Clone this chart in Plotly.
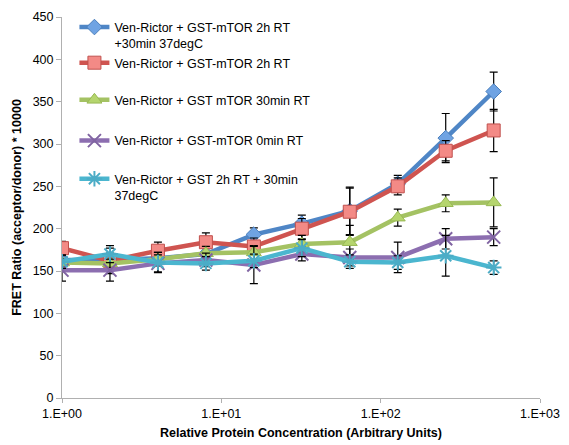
import plotly.graph_objects as go

conc = [1, 2, 4, 8, 16, 32, 64, 128, 256, 512]

names = [
    "Ven-Rictor + GST-mTOR 2h RT<br>+30min 37degC",
    "Ven-Rictor + GST-mTOR 2h RT",
    "Ven-Rictor + GST mTOR 30min RT",
    "Ven-Rictor + GST-mTOR 0min RT",
    "Ven-Rictor + GST 2h RT + 30min<br>37degC",
]

blue = [163, 163, 165, 170, 193, 206, 221, 253, 307, 362]
red = [177, 162, 174, 184, 179, 200, 220, 250, 292, 316]
green = [160, 159, 164, 171, 172, 182, 184, 213, 230, 231]
purple = [151, 151, 159, 163, 157, 170, 166, 166, 188, 190]
cyan = [161, 170, 160, 159, 162, 177, 161, 160, 168, 154]

blue_err = [8, 8, 8, 8, 8, 10, 28, 10, 29, 23]
red_err = [8, 15, 10, 11, 10, 12, 28, 10, 12, 25]
green_err = [8, 8, 8, 8, 8, 10, 20, 10, 10, 29]
purple_err = [13, 13, 10, 8, 22, 8, 10, 18, 12, 10]
cyan_err = [8, 10, 12, 8, 8, 10, 8, 8, 24, 8]

x_tickvals = [1, 10, 100, 1000]
x_ticktext = ["1.E+00", "1.E+01", "1.E+02", "1.E+03"]

series = [
    (blue, blue_err, "#4F86C6", dict(symbol="diamond", size=12, color="#6FA3E3", line=dict(color="#4A7EBB", width=1))),
    (red, red_err, "#CF5450", dict(symbol="square", size=13, color="#F38A86", line=dict(color="#C0504D", width=1))),
    (green, green_err, "#A4C263", dict(symbol="triangle-up", size=13, color="#B5D56E", line=dict(color="#98B954", width=1))),
    (purple, purple_err, "#8C6EB0", dict(symbol="x-thin-open", size=13, color="#8064A2", line=dict(color="#8064A2", width=2))),
    (cyan, cyan_err, "#4BB6CF", dict(symbol="asterisk-open", size=13, color="#4BACC6", line=dict(color="#4BACC6", width=2))),
]

legend_ids = ["legend", "legend2", "legend3", "legend4", "legend5"]
legend_tops = [1.012, 0.9185, 0.821, 0.714, 0.614]

fig = go.Figure()
for i, (vals, err, lc, mk) in enumerate(series):
    fig.add_trace(go.Scatter(
        x=conc, y=vals, name=names[i], mode="lines+markers",
        line=dict(color=lc, width=4.5),
        marker=mk,
        error_y=dict(type="data", array=err, visible=True, color="black", thickness=1.2, width=4),
        legend=legend_ids[i],
    ))

font_family = "Liberation Sans, Arial, sans-serif"
layout_legends = {}
for lid, ytop in zip(legend_ids, legend_tops):
    layout_legends[lid] = dict(
        x=0.026, y=ytop, xanchor="left", yanchor="top",
        bgcolor="rgba(0,0,0,0)", font=dict(size=12.5, family=font_family),
        valign="top", itemwidth=30,
    )

fig.update_layout(
    width=569, height=445,
    margin=dict(l=62, r=29, t=17, b=47, autoexpand=False),
    paper_bgcolor="white", plot_bgcolor="white",
    font=dict(family=font_family, size=12.5, color="black"),
    showlegend=True,
    xaxis=dict(
        type="log", range=[0, 3],
        tickvals=x_tickvals, ticktext=x_ticktext,
        showgrid=False, zeroline=False,
        showline=True, linecolor="#B0B0B0", linewidth=1,
        ticks="outside", ticklen=4, tickcolor="#B0B0B0",
        title=dict(text="<b>Relative Protein Concentration (Arbitrary Units)</b>", standoff=8,
                   font=dict(size=12.5)),
    ),
    yaxis=dict(
        range=[0, 450], dtick=50,
        showgrid=False, zeroline=False,
        showline=True, linecolor="#B0B0B0", linewidth=1,
        ticks="outside", ticklen=5, tickcolor="#B0B0B0",
        title=dict(text="<b>FRET Ratio (acceptor/donor) * 10000</b>", standoff=8,
                   font=dict(size=12.5)),
    ),
    **layout_legends,
)

fig.write_html("out.html")
